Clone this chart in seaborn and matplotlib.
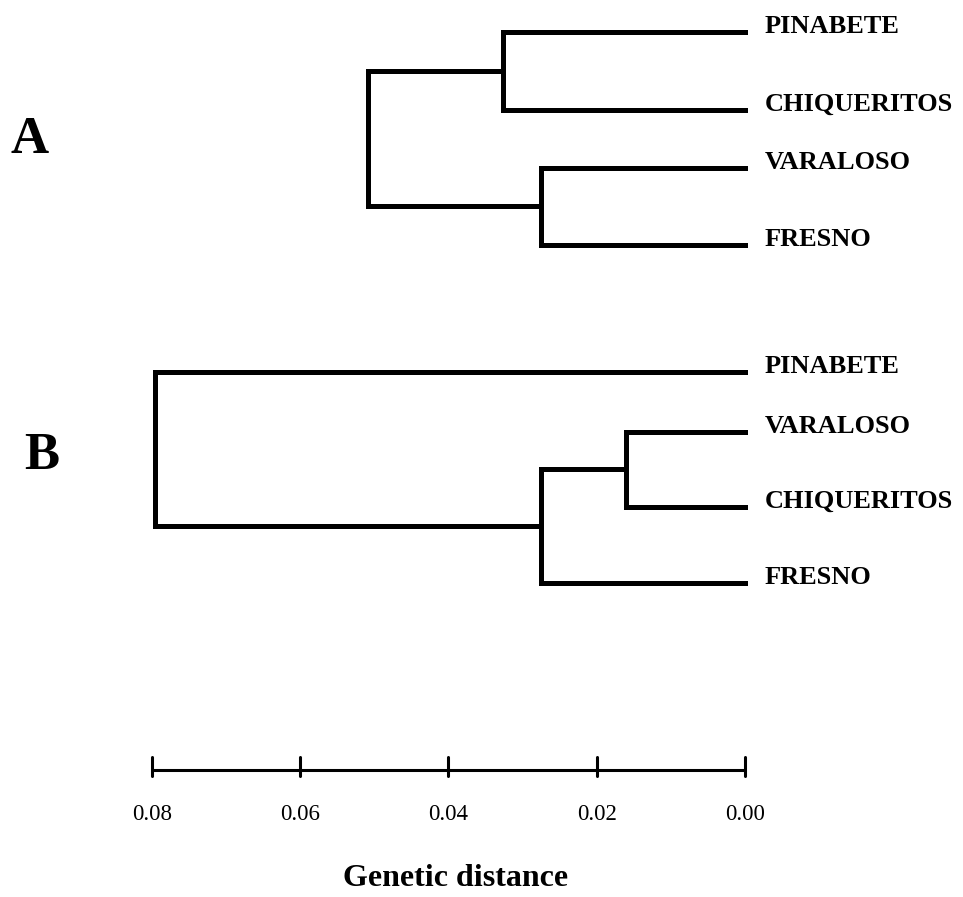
import numpy as np
import pandas as pd
import matplotlib
matplotlib.use("Agg")
import matplotlib.pyplot as plt
import seaborn as sns

# ---- data ----
tree_a_leaves = ["PINABETE", "CHIQUERITOS", "VARALOSO", "FRESNO"]
# merges: (child1, child2, height) ; children are leaf index or "nK" for node K
tree_a_merges = [(0, 1, 0.0326), (2, 3, 0.0275), ("n0", "n1", 0.0509)]

tree_b_leaves = ["PINABETE", "VARALOSO", "CHIQUERITOS", "FRESNO"]
tree_b_merges = [(1, 2, 0.0161), ("n0", 3, 0.0275), (0, "n1", 0.0796)]

scale_ticks = [0.08, 0.06, 0.04, 0.02, 0.00]
scale_labels = ["0.08", "0.06", "0.04", "0.02", "0.00"]
panel_labels = ["A", "B"]
axis_title = "Genetic distance"

# ---- layout ----
W, H, DPI = 963, 897, 100
PX_PER_UNIT = 7412.5
X0_PX = 745.0
tree_a_rows = [32, 110, 168, 245]
tree_b_rows = [372, 432, 507, 583]

sns.set_style("white")
plt.rcParams["font.family"] = ["Liberation Serif", "DejaVu Serif"]
plt.rcParams["text.color"] = "black"

fig = plt.figure(figsize=(W / DPI, H / DPI), dpi=DPI)
ax = fig.add_axes([0, 0, 1, 1])
ax.set_xlim(X0_PX / PX_PER_UNIT, -(W - X0_PX) / PX_PER_UNIT)
ax.set_ylim(H, 0)
ax.axis("off")


def tree_segments(leaves, merges, rows, tag):
    pos = {i: (0.0, rows[i]) for i in range(len(leaves))}
    segs = []
    k = 0
    for ni, (c1, c2, h) in enumerate(merges):
        p1 = pos[c1]
        p2 = pos[c2]
        for (cx, cy) in (p1, p2):
            segs.append((f"{tag}{k}", cx, cy)); segs.append((f"{tag}{k}", h, cy)); k += 1
        segs.append((f"{tag}{k}", h, p1[1])); segs.append((f"{tag}{k}", h, p2[1])); k += 1
        pos[f"n{ni}"] = (h, (p1[1] + p2[1]) / 2)
    return segs


segs = tree_segments(tree_a_leaves, tree_a_merges, tree_a_rows, "a") + \
       tree_segments(tree_b_leaves, tree_b_merges, tree_b_rows, "b")
df = pd.DataFrame(segs, columns=["seg", "dist", "y"])
sns.lineplot(data=df, x="dist", y="y", units="seg", estimator=None, sort=False,
             color="black", linewidth=3.6, ax=ax, legend=False)
for line in ax.lines:
    line.set_solid_capstyle("projecting")
    line.set_solid_joinstyle("miter")

label_off = 20 / PX_PER_UNIT
for leaves, rows in ((tree_a_leaves, tree_a_rows), (tree_b_leaves, tree_b_rows)):
    for name, r in zip(leaves, rows):
        ax.text(-label_off, r + 1, name, ha="left", va="baseline",
                fontsize=19, fontweight="bold", color="black")

ax.text(0.1005 - 10 / PX_PER_UNIT, 140, panel_labels[0], ha="left", va="center",
        fontsize=38, fontweight="bold", color="black")
ax.text(0.1005 - 24 / PX_PER_UNIT, 456, panel_labels[1], ha="left", va="center",
        fontsize=38, fontweight="bold", color="black")

# scale bar
bar_y = 770
ax.plot([max(scale_ticks), min(scale_ticks)], [bar_y, bar_y], color="black", lw=2.2)
for t, lab in zip(scale_ticks, scale_labels):
    ax.plot([t, t], [757, 776], color="black", lw=2.2)
    ax.text(t, 815, lab, ha="center", va="center", fontsize=16.5, color="black")
ax.text(X0_PX / PX_PER_UNIT - (456 - 0) / PX_PER_UNIT + 0 , 878, axis_title,
        ha="center", va="center", fontsize=23, fontweight="bold", color="black")

fig.savefig("out.png", dpi=DPI, facecolor="white")
